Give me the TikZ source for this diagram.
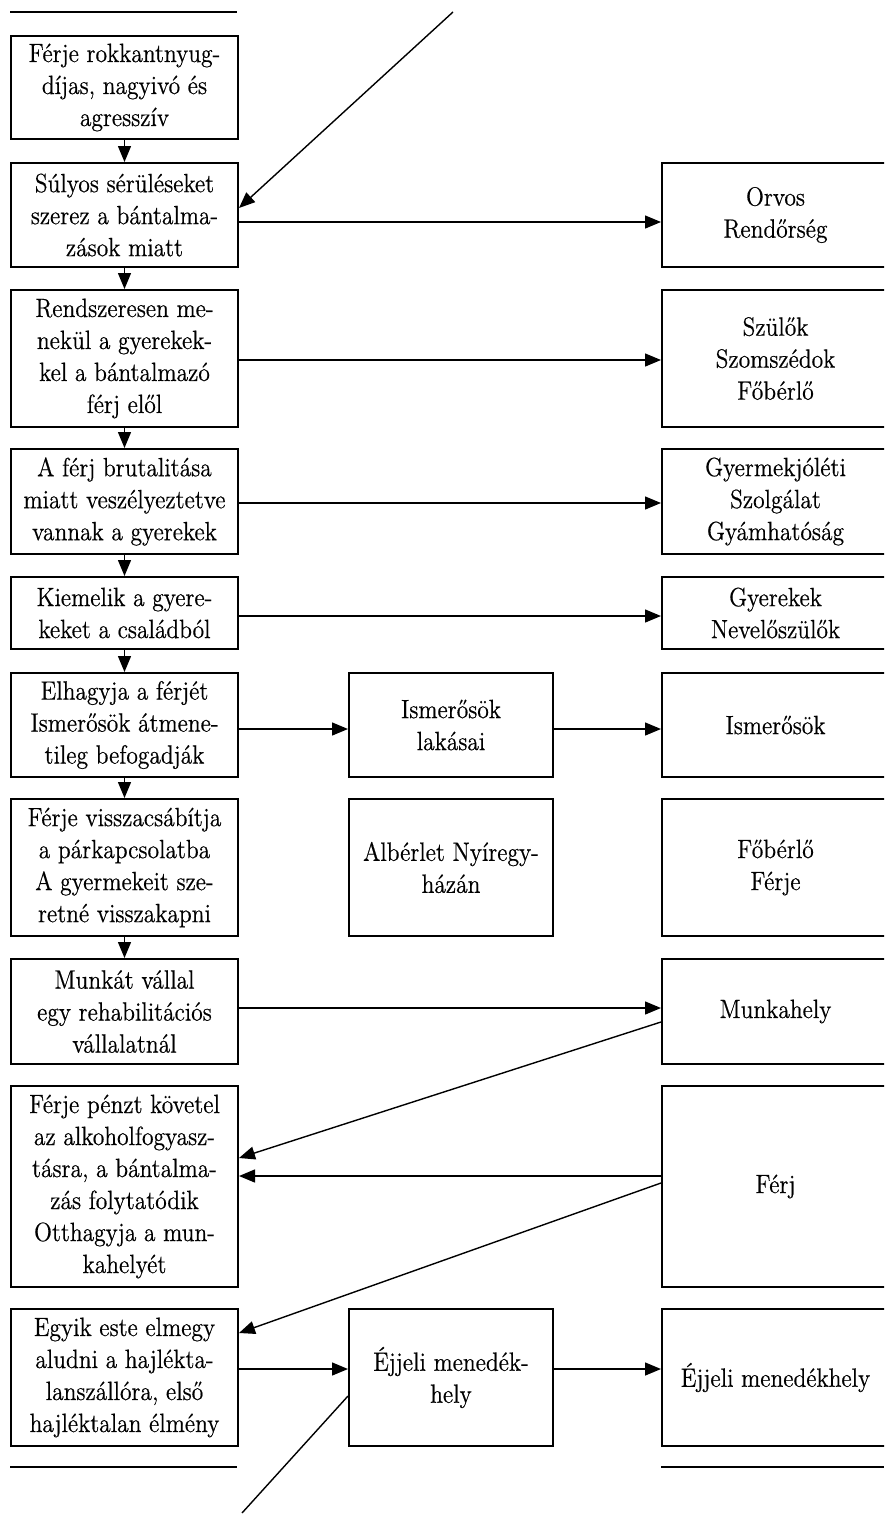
\documentclass[tikz,border=0pt]{standalone}
\usepackage{fontspec}
\setmainfont{Latin Modern Roman}[FakeStretch=0.89, FakeBold=0.5]
\usetikzlibrary{arrows.meta,calc}

\tikzset{
  box/.style={draw, line width=1pt, rectangle, inner sep=0pt, align=center,
    anchor=north west, font=\fontsize{13.2}{16}\selectfont},
  lbox/.style={box, minimum width=113.5pt},
  mbox/.style={box, minimum width=102pt},
  rbox/.style={box, minimum width=113.5pt},
  conn/.style={line width=0.7pt, -{Triangle[length=8pt,width=6.5pt]}},
  plain/.style={line width=0.7pt},
  rule/.style={line width=1pt}
}

\begin{document}
\begin{tikzpicture}[x=0.5pt, y=-0.5pt]
\useasboundingbox (0,0) rectangle (884,1515);
\fill[white] (0,0) rectangle (884,1515);
\clip (0,0) rectangle (884,1515);

% left column: the life path
\node[lbox, minimum height=51.5pt] (l1) at (10,35) {Férje rokkantnyug-\\díjas, nagyivó és\\agresszív};
\node[lbox, minimum height=52pt] (l2) at (10,162) {Súlyos sérüléseket\\szerez a bántalma-\\zások miatt};
\node[lbox, minimum height=68.5pt] (l3) at (10,289) {Rendszeresen me-\\nekül a gyerekek-\\kel a bántalmazó\\férj elől};
\node[lbox, minimum height=52.5pt] (l4) at (10,448) {A férj brutalitása\\miatt veszélyeztetve\\vannak a gyerekek};
\node[lbox, minimum height=36pt] (l5) at (10,576) {Kiemelik a gyere-\\keket a családból};
\node[lbox, minimum height=52pt] (l6) at (10,672) {Elhagyja a férjét\\Ismerősök átmene-\\tileg befogadják};
\node[lbox, minimum height=68.5pt] (l7) at (10,798) {Férje visszacsábítja\\a párkapcsolatba\\A gyermekeit sze-\\retné visszakapni};
\node[lbox, minimum height=52.5pt] (l8) at (10,958) {Munkát vállal\\egy rehabilitációs\\vállalatnál};
\node[lbox, minimum height=100.5pt] (l9) at (10,1085) {Férje pénzt követel\\az alkoholfogyasz-\\tásra, a bántalma-\\zás folytatódik\\Otthagyja a mun-\\kahelyét};
\node[lbox, minimum height=68.5pt] (l10) at (10,1308) {Egyik este elmegy\\aludni a hajlékta-\\lanszállóra, első\\hajléktalan élmény};

% middle column: places
\node[mbox, minimum height=52pt] (m6) at (348,672) {Ismerősök\\lakásai};
\node[mbox, minimum height=68.5pt] (m7) at (348,798) {Albérlet Nyíregy-\\házán};
\node[mbox, minimum height=68.5pt] (m10) at (348,1308) {Éjjeli menedék-\\hely};

% right column: people and institutions
\node[rbox, minimum height=52pt] (r2) at (661,162) {Orvos\\Rendőrség};
\node[rbox, minimum height=68.5pt] (r3) at (661,289) {Szülők\\Szomszédok\\Főbérlő};
\node[rbox, minimum height=52.5pt] (r4) at (661,448) {Gyermekjóléti\\Szolgálat\\Gyámhatóság};
\node[rbox, minimum height=36pt] (r5) at (661,576) {Gyerekek\\Nevelőszülők};
\node[rbox, minimum height=52pt] (r6) at (661,672) {Ismerősök};
\node[rbox, minimum height=68.5pt] (r7) at (661,798) {Főbérlő\\Férje};
\node[rbox, minimum height=52.5pt] (r8) at (661,958) {Munkahely};
\node[rbox, minimum height=100.5pt] (r9) at (661,1085) {Férj};
\node[rbox, minimum height=68.5pt] (r10) at (661,1308) {Éjjeli menedékhely};

% rules above and below
\coordinate (ta) at (10,12);
\coordinate (tb) at (237,12);
\coordinate (ba) at (10,1467);
\coordinate (bb) at (237,1467);
\coordinate (bc) at (661,1467);
\coordinate (bd) at (884,1467);
\draw[rule] (ta) -- (tb);
\draw[rule] (ba) -- (bb);
\draw[rule] (bc) -- (bd);

% vertical sequence
\draw[conn] (l1) -- (l2);
\draw[conn] (l2) -- (l3);
\draw[conn] (l3) -- (l4);
\draw[conn] (l4) -- (l5);
\draw[conn] (l5) -- (l6);
\draw[conn] (l6) -- (l7);
\draw[conn] (l7) -- (l8);

% horizontal links
\draw[conn] (l2.east |- 0,222) -- (r2.west |- 0,222);
\draw[conn] (l3.east |- 0,360) -- (r3.west |- 0,360);
\draw[conn] (l4.east |- 0,503) -- (r4.west |- 0,503);
\draw[conn] (l5.east |- 0,616) -- (r5.west |- 0,616);
\draw[conn] (l6.east |- 0,729) -- (m6.west |- 0,729);
\draw[conn] (m6.east |- 0,729) -- (r6.west |- 0,729);
\draw[conn] (l8.east |- 0,1008) -- (r8.west |- 0,1008);
\draw[conn] (r9.west |- 0,1176) -- (l9.east |- 0,1176);
\draw[conn] (l10.east |- 0,1369) -- (m10.west |- 0,1369);
\draw[conn] (m10.east |- 0,1369) -- (r10.west |- 0,1369);

% slanted links
\coordinate (topin) at (453,12);
\coordinate (botout) at (242,1513);
\draw[conn] (topin) -- ($(l2.north east)+(0,46)$);
\draw[conn] ($(r8.north west)+(0,64)$) -- ($(l9.north east)+(0,73)$);
\draw[conn] ($(r9.north west)+(0,98)$) -- ($(l10.north east)+(0,25)$);
\draw[plain] (botout) -- ($(m10.north west)+(0,88)$);
\end{tikzpicture}
\end{document}
